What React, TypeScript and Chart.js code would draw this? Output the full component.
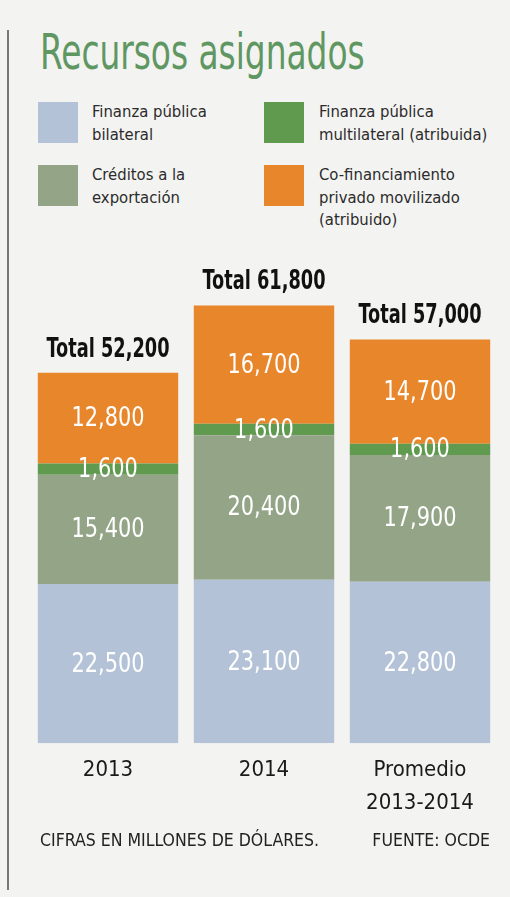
import React, { useEffect, useRef } from "react";
import { Chart, registerables } from "chart.js";

Chart.register(...registerables);

const categories: (string | string[])[] = ["2013", "2014", ["Promedio", "2013-2014"]];
const bilateral = [22500, 23100, 22800];
const exportCredits = [15400, 20400, 17900];
const multilateral = [1600, 1600, 1600];
const privateCofin = [12800, 16700, 14700];
const totals = [52200, 61800, 57000];

const seriesNames = [
  "Finanza pública bilateral",
  "Créditos a la exportación",
  "Finanza pública multilateral (atribuida)",
  "Co-financiamiento privado movilizado (atribuido)",
];

const COLORS = {
  bilateral: "#b3c2d6",
  exportCredits: "#94a487",
  multilateral: "#5f9a4f",
  privateCofin: "#e8862b",
};

const FONT = "'Liberation Sans Narrow', 'DejaVu Sans Condensed', 'Roboto', sans-serif";

const fmt = (v: number) => v.toLocaleString("en-US");

function drawScaled(ctx: any, text: string, x: number, y: number, sx: number) {
  ctx.save();
  ctx.translate(x, y);
  ctx.scale(sx, 1);
  ctx.fillText(text, 0, 0);
  ctx.restore();
}

const labelsPlugin = {
  id: "segLabels",
  afterDatasetsDraw(chart: any) {
    const ctx = chart.ctx;
    ctx.save();
    ctx.textAlign = "center";
    ctx.textBaseline = "middle";
    chart.data.datasets.forEach((ds: any, di: number) => {
      const meta = chart.getDatasetMeta(di);
      meta.data.forEach((el: any, i: number) => {
        const v = ds.data[i];
        const y = (el.y + el.base) / 2;
        ctx.fillStyle = "#ffffff";
        ctx.font = `400 27px ${FONT}`;
        drawScaled(ctx, fmt(v), el.x, y + 1, 0.86);
      });
    });
    const topMeta = chart.getDatasetMeta(chart.data.datasets.length - 1);
    topMeta.data.forEach((el: any, i: number) => {
      ctx.fillStyle = "#111111";
      ctx.font = `700 26px ${FONT}`;
      drawScaled(ctx, `Total ${fmt(totals[i])}`, el.x, el.y - 23, 0.76);
    });
    ctx.restore();
  },
};

function ChartCanvas() {
  const ref = useRef<HTMLCanvasElement | null>(null);
  useEffect(() => {
    if (!ref.current) return;
    const chart = new Chart(ref.current, {
      type: "bar",
      data: {
        labels: categories,
        datasets: [
          { label: seriesNames[0], data: bilateral, backgroundColor: COLORS.bilateral },
          { label: seriesNames[1], data: exportCredits, backgroundColor: COLORS.exportCredits },
          { label: seriesNames[2], data: multilateral, backgroundColor: COLORS.multilateral },
          { label: seriesNames[3], data: privateCofin, backgroundColor: COLORS.privateCofin },
        ],
      },
      options: {
        animation: false,
        responsive: false,
        maintainAspectRatio: false,
        layout: { padding: { left: 30, right: 12, top: 40, bottom: 0 } },
        datasets: { bar: { barPercentage: 0.9, categoryPercentage: 1, borderWidth: 0 } },
        plugins: {
          legend: { display: false },
          tooltip: { enabled: false },
          title: { display: false },
        },
        scales: {
          x: {
            stacked: true,
            grid: { display: false, drawTicks: false },
            border: { display: false },
            ticks: {
              color: "#1a1a1a",
              padding: 11,
              font: { family: FONT, size: 22, lineHeight: 1.47 },
              maxRotation: 0,
              autoSkip: false,
            },
          },
          y: {
            stacked: true,
            display: false,
            min: 0,
            max: 64000,
          },
        },
      },
      plugins: [labelsPlugin],
    });
    return () => chart.destroy();
  }, []);
  return (
    <canvas
      ref={ref}
      width={510}
      height={580}
      style={{ position: "absolute", left: 0, top: 250, width: 510, height: 580 }}
    />
  );
}

const legendItems = [
  { color: COLORS.bilateral, lines: ["Finanza pública", "bilateral"], x: 38, y: 102, tx: 92 },
  { color: COLORS.multilateral, lines: ["Finanza pública", "multilateral (atribuida)"], x: 264, y: 102, tx: 319 },
  { color: COLORS.exportCredits, lines: ["Créditos a la", "exportación"], x: 38, y: 165, tx: 92 },
  { color: COLORS.privateCofin, lines: ["Co-financiamiento", "privado movilizado", "(atribuido)"], x: 264, y: 165, tx: 319 },
];

export default function App() {
  useEffect(() => {
    document.body.style.margin = "0";
  }, []);
  return (
    <div
      style={{
        position: "relative",
        width: 510,
        height: 897,
        background: "#f3f3f1",
        overflow: "hidden",
        fontFamily: FONT,
      }}
    >
      <div style={{ position: "absolute", left: 7, top: 30, width: 1.5, height: 860, background: "#777" }} />
      <div
        style={{
          position: "absolute",
          left: 40,
          top: 22,
          fontSize: 50,
          lineHeight: "60px",
          color: "#5f9762",
          transform: "scaleX(0.73)",
          transformOrigin: "left top",
          whiteSpace: "nowrap",
        }}
      >
        Recursos asignados
      </div>
      {legendItems.map((it, k) => (
        <React.Fragment key={k}>
          <div
            style={{
              position: "absolute",
              left: it.x,
              top: it.y,
              width: 40,
              height: 41,
              background: it.color,
            }}
          />
          <div
            style={{
              position: "absolute",
              left: it.tx,
              top: it.y - 1,
              fontSize: 16.5,
              lineHeight: "22.5px",
              color: "#2b2b2b",
              whiteSpace: "nowrap",
            }}
          >
            {it.lines.map((l, j) => (
              <div key={j}>{l}</div>
            ))}
          </div>
        </React.Fragment>
      ))}
      <ChartCanvas />
      <div
        style={{
          position: "absolute",
          left: 40,
          top: 830,
          fontSize: 17.5,
          lineHeight: "20px",
          color: "#222",
          whiteSpace: "nowrap",
        }}
      >
        CIFRAS EN MILLONES DE DÓLARES.
      </div>
      <div
        style={{
          position: "absolute",
          right: 20,
          top: 830,
          fontSize: 17.5,
          lineHeight: "20px",
          color: "#222",
          whiteSpace: "nowrap",
        }}
      >
        FUENTE: OCDE
      </div>
    </div>
  );
}
